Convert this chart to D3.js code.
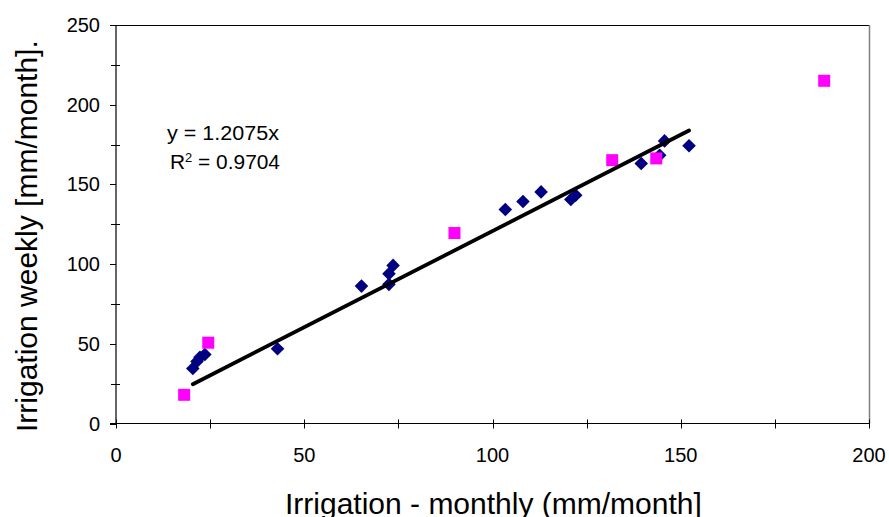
<!DOCTYPE html>
<html>
<head>
<meta charset="utf-8">
<script src="https://cdn.jsdelivr.net/npm/d3@7"></script>
<style>
  html, body { margin: 0; padding: 0; background: #fff; }
  svg { display: block; font-family: Arial, "Liberation Sans", sans-serif; }
</style>
</head>
<body>
<svg id="chart" width="889" height="517"></svg>
<script>
// Monthly vs weekly irrigation estimates (mm/month)
const seriesAMonthly = [20.4, 21.5, 22.3, 23.6, 42.9, 65.2, 72.5, 72.5, 73.6, 103.4, 108.1, 112.9, 120.8, 122.1, 139.5, 144.4, 145.7, 152.2];
const seriesAWeekly  = [34.5, 38.9, 41.5, 43.3, 46.9, 86.2, 87.3, 94.0, 99.2, 134.2, 139.3, 145.3, 140.5, 143.2, 163.1, 168.3, 177.3, 174.2];

const seriesBMonthly = [18.1, 24.5, 89.9, 131.8, 143.5, 188.1];
const seriesBWeekly  = [18.0, 50.7, 119.5, 165.2, 166.3, 215.0];

const trendSlope = 1.2075;
const trendR2 = "0.9704";

const xTicks = [0, 50, 100, 150, 200];
const yTicks = [0, 50, 100, 150, 200, 250];
const xMinorTicks = [25, 75, 125, 175];
const yMinorTicks = [25, 75, 125, 175, 225];

const xTitle = "Irrigation - monthly (mm/month]";
const yTitle = "Irrigation weekly [mm/month].";

const svg = d3.select("#chart");
const plotLeft = 116, plotRight = 869, plotTop = 25, plotBottom = 423.5;

const x = d3.scaleLinear().domain([0, 200]).range([plotLeft, plotRight]);
const y = d3.scaleLinear().domain([0, 250]).range([plotBottom, plotTop]);

// Plot frame (top and right)
svg.append("line").attr("x1", plotLeft).attr("x2", plotRight).attr("y1", plotTop + 0.5).attr("y2", plotTop + 0.5)
  .attr("stroke", "#000").attr("stroke-width", 1.2);
svg.append("line").attr("x1", plotRight + 0.5).attr("x2", plotRight + 0.5).attr("y1", plotTop).attr("y2", plotBottom)
  .attr("stroke", "#808080").attr("stroke-width", 1.5);

// X axis: line, crossing ticks, labels
const gx = svg.append("g");
gx.append("line").attr("x1", plotLeft - 6).attr("x2", plotRight).attr("y1", plotBottom).attr("y2", plotBottom)
  .attr("stroke", "#000").attr("stroke-width", 1.2);
gx.selectAll("line.tk").data(xTicks.concat(xMinorTicks)).join("line").attr("class", "tk")
  .attr("x1", d => Math.round(x(d)) + 0.5).attr("x2", d => Math.round(x(d)) + 0.5)
  .attr("y1", plotBottom - 4).attr("y2", plotBottom + 5)
  .attr("stroke", "#000").attr("stroke-width", 1);
gx.selectAll("text").data(xTicks).join("text")
  .attr("x", d => x(d)).attr("y", 462)
  .attr("text-anchor", "middle").attr("font-size", 20).attr("fill", "#000")
  .text(d => d);

// Y axis: line, outside major ticks, crossing minor ticks, labels
const gy = svg.append("g");
gy.append("line").attr("x1", plotLeft).attr("x2", plotLeft).attr("y1", plotTop).attr("y2", plotBottom)
  .attr("stroke", "#000").attr("stroke-width", 1.2);
gy.selectAll("line.mj").data(yTicks).join("line").attr("class", "mj")
  .attr("x1", plotLeft - 6).attr("x2", plotLeft)
  .attr("y1", d => Math.round(y(d)) + 0.5).attr("y2", d => Math.round(y(d)) + 0.5)
  .attr("stroke", "#000").attr("stroke-width", 1);
gy.selectAll("line.mn").data(yMinorTicks).join("line").attr("class", "mn")
  .attr("x1", plotLeft - 5).attr("x2", plotLeft + 4)
  .attr("y1", d => Math.round(y(d)) + 0.5).attr("y2", d => Math.round(y(d)) + 0.5)
  .attr("stroke", "#000").attr("stroke-width", 1);
gy.selectAll("text").data(yTicks).join("text")
  .attr("x", 100).attr("y", d => y(d)).attr("dy", "0.35em")
  .attr("text-anchor", "end").attr("font-size", 20).attr("fill", "#000")
  .text(d => d);

// Series A: navy diamonds
const diamond = d3.symbol().type(d3.symbolSquare).size(92);
svg.append("g").selectAll("path").data(d3.zip(seriesAMonthly, seriesAWeekly)).join("path")
  .attr("d", diamond)
  .attr("transform", d => `translate(${x(d[0])},${y(d[1])}) rotate(45)`)
  .attr("fill", "#000080");

// Series B: magenta squares
svg.append("g").selectAll("rect").data(d3.zip(seriesBMonthly, seriesBWeekly)).join("rect")
  .attr("x", d => x(d[0]) - 6).attr("y", d => y(d[1]) - 6)
  .attr("width", 12).attr("height", 12)
  .attr("fill", "#FF00FF");

// Linear trendline through origin, over the range of series A
const xMin = d3.min(seriesAMonthly), xMax = d3.max(seriesAMonthly);
svg.append("line")
  .attr("x1", x(xMin)).attr("y1", y(trendSlope * xMin))
  .attr("x2", x(xMax)).attr("y2", y(trendSlope * xMax))
  .attr("stroke", "#000").attr("stroke-width", 3.8).attr("stroke-linecap", "round");

// Trendline equation
const eq = svg.append("g").attr("font-size", 19.5).attr("fill", "#000");
eq.append("text").attr("x", 167).attr("y", 140)
  .attr("textLength", 112).attr("lengthAdjust", "spacingAndGlyphs")
  .text(`y = ${trendSlope}x`);
const r2 = eq.append("text").attr("x", 170).attr("y", 169)
  .attr("textLength", 110).attr("lengthAdjust", "spacingAndGlyphs");
r2.append("tspan").text("R");
r2.append("tspan").attr("dy", -7).attr("font-size", 12).text("2");
r2.append("tspan").attr("dy", 7).text(` = ${trendR2}`);

// Axis titles
svg.append("text").attr("x", 285).attr("y", 514)
  .attr("font-size", 30).attr("fill", "#000")
  .text(xTitle);
svg.append("text")
  .attr("transform", "translate(37,432) rotate(-90)")
  .attr("font-size", 30).attr("fill", "#000")
  .text(yTitle);
</script>
</body>
</html>
